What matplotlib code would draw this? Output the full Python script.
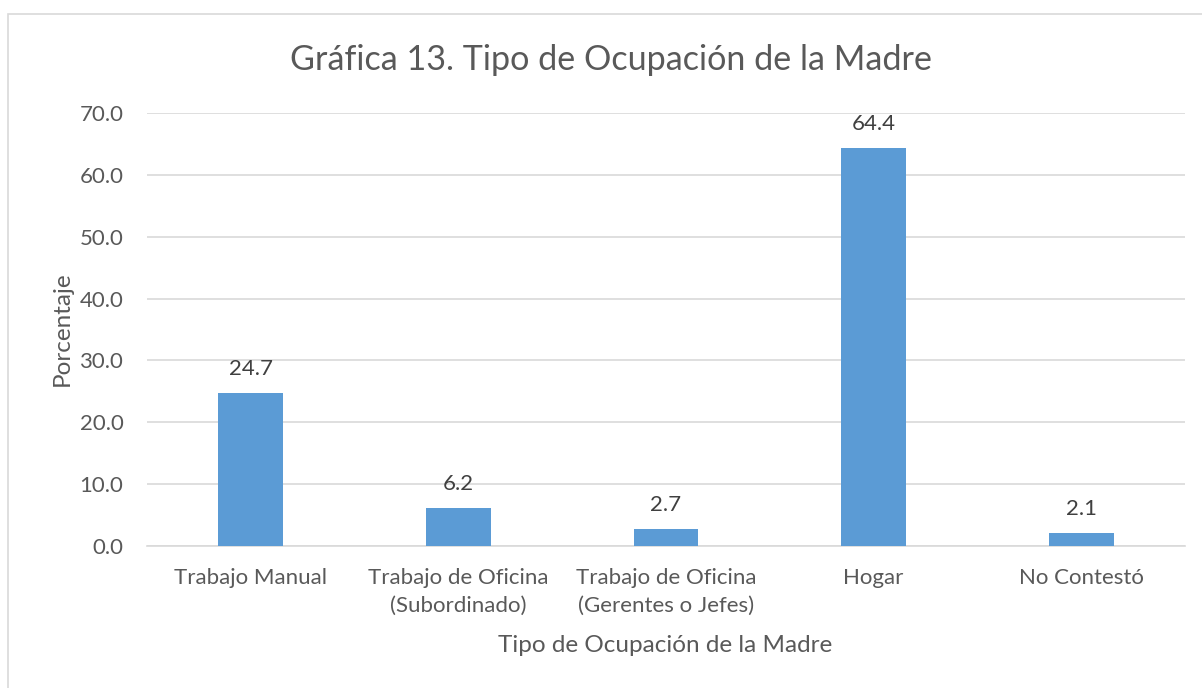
import matplotlib
matplotlib.use("Agg")
import matplotlib.pyplot as plt
from matplotlib.patches import Rectangle

categories = ["Trabajo Manual", "Trabajo de Oficina\n(Subordinado)", "Trabajo de Oficina\n(Gerentes o Jefes)", "Hogar", "No Contestó"]
values = [24.7, 6.2, 2.7, 64.4, 2.1]
yticks = [0, 10, 20, 30, 40, 50, 60, 70]

plt.rcParams['font.family'] = ['Lato', 'DejaVu Sans']
W, H = 1202, 688
fig = plt.figure(figsize=(W/100, H/100), dpi=100)
fig.patch.set_facecolor('white')

# chart border (cropped on right/bottom)
fig.add_artist(Rectangle((7.5/W, -0.01), 1.2, (H-14)/H + 0.01, transform=fig.transFigure,
                         fill=False, edgecolor='#d9d9d9', linewidth=1.2))

left, right = 147/W, 1185/W
bottom, top = 1 - 546/H, 1 - 113/H
ax = fig.add_axes([left, bottom, right-left, top-bottom])
x = list(range(len(categories)))
bars = ax.bar(x, values, width=0.313, color='#5b9bd5', zorder=3)
ax.set_xlim(-0.5, len(categories)-0.5)
ax.set_ylim(0, 70)
ax.set_yticks(yticks)
ax.set_yticklabels([f"{v:.1f}" for v in yticks])
ax.yaxis.grid(True, color='#d9d9d9', linewidth=1.2, zorder=0)
for s in ['top', 'right', 'left']:
    ax.spines[s].set_visible(False)
ax.spines['bottom'].set_color('#d9d9d9')
ax.spines['bottom'].set_linewidth(1.2)
ax.tick_params(axis='both', length=0, colors='#595959', labelsize=16)
ax.tick_params(axis='y', pad=17)
ax.tick_params(axis='x', pad=16)
ax.set_xticks(x)
ax.set_xticklabels(categories, linespacing=1.5)

for xi, v in zip(x, values):
    ax.annotate(f"{v:.1f}", (xi, v), xytext=(0, 10), textcoords='offset points',
                ha='center', va='bottom', fontsize=16, color='#404040')

fig.text(611/W, 1 - 60/H, "Gráfica 13. Tipo de Ocupación de la Madre", ha='center', va='center',
         fontsize=24.6, color='#595959')
fig.text(665/W, 1 - 645/H, "Tipo de Ocupación de la Madre", ha='center', va='center',
         fontsize=17.5, color='#595959')
fig.text(62/W, 1 - 329/H, "Porcentaje", ha='center', va='center', rotation=90,
         fontsize=17.5, color='#595959')

fig.savefig("out.png", dpi=100, facecolor='white')
